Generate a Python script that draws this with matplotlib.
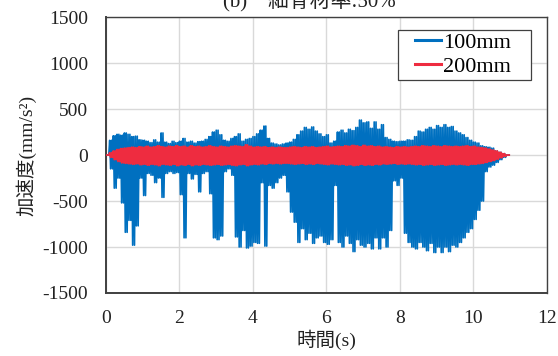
import numpy as np
import matplotlib
matplotlib.use("Agg")
import matplotlib.pyplot as plt
from matplotlib.patches import Rectangle

FONT = ["Liberation Serif", "Noto Sans CJK JP"]
plt.rcParams["font.family"] = FONT
plt.rcParams["axes.unicode_minus"] = False

# ---------------------------------------------------------------------------
# Peak envelopes of the acceleration records, one (max, min) pair per 0.1 s
# ---------------------------------------------------------------------------
t_s = np.linspace(0.0, 10.9, 110)

acc100_max = [
    0, 160, 210, 225, 215, 240, 225, 200, 205, 165,
    160, 150, 135, 165, 140, 240, 140, 125, 150, 135,
    150, 180, 140, 150, 130, 145, 150, 170, 200, 250,
    270, 220, 160, 150, 180, 200, 230, 150, 170, 180,
    200, 230, 270, 315, 180, 130, 120, 110, 120, 130,
    140, 170, 220, 260, 300, 280, 305, 260, 230, 200,
    220, 130, 150, 250, 270, 240, 280, 265, 300, 380,
    350, 360, 290, 360, 280, 330, 190, 170, 150, 145,
    150, 150, 165, 160, 200, 260, 250, 280, 300, 280,
    320, 300, 330, 300, 310, 260, 240, 220, 190, 160,
    140, 130, 100, 90, 85, 75, 45, 30, 15, 0,
]
acc100_min = [
    0, -150, -360, -250, -520, -840, -710, -980, -770, -250,
    -440, -200, -220, -300, -250, -460, -200, -180, -200, -190,
    -430, -900, -200, -260, -210, -400, -200, -180, -420, -900,
    -920, -880, -180, -150, -220, -890, -1000, -820, -1010, -990,
    -950, -960, -300, -990, -330, -360, -300, -250, -220, -400,
    -620, -730, -950, -800, -920, -850, -960, -900, -880, -950,
    -970, -920, -330, -950, -1000, -880, -960, -1050, -920, -980,
    -1000, -960, -1020, -900, -1020, -900, -1000, -820, -280, -330,
    -250, -850, -950, -1000, -1020, -950, -1000, -1040, -960, -1060,
    -1000, -1060, -1000, -1050, -980, -1000, -950, -900, -840, -800,
    -700, -600, -500, -180, -130, -110, -80, -50, -25, 0,
]

acc200_max = [
    0, 25, 45, 60, 70, 75, 80, 85, 80, 90,
    85, 95, 85, 90, 100, 90, 85, 95, 90, 100,
    90, 95, 85, 100, 90, 95, 85, 90, 100, 90,
    85, 95, 90, 85, 95, 100, 95, 90, 110, 95,
    85, 90, 85, 90, 80, 85, 80, 85, 80, 80,
    85, 90, 85, 80, 90, 85, 90, 80, 85, 90,
    95, 85, 90, 95, 90, 100, 95, 105, 100, 90,
    105, 95, 100, 90, 95, 85, 90, 85, 80, 90,
    85, 90, 85, 90, 95, 90, 100, 95, 90, 100,
    95, 90, 100, 95, 90, 95, 90, 95, 100, 90,
    95, 85, 80, 75, 65, 55, 45, 30, 15, 0,
]
acc200_min = [
    0, -25, -50, -70, -85, -90, -95, -100, -95, -105,
    -100, -110, -100, -105, -115, -100, -105, -110, -100, -115,
    -105, -110, -100, -115, -105, -110, -100, -105, -110, -105,
    -100, -110, -105, -100, -110, -115, -105, -100, -115, -105,
    -100, -105, -95, -100, -90, -95, -90, -95, -90, -90,
    -95, -100, -95, -90, -100, -95, -100, -90, -95, -100,
    -105, -95, -100, -105, -100, -110, -105, -115, -110, -100,
    -110, -105, -110, -100, -105, -95, -100, -95, -90, -100,
    -95, -100, -95, -100, -105, -100, -110, -105, -100, -110,
    -105, -100, -110, -105, -100, -105, -100, -105, -110, -100,
    -100, -95, -90, -80, -70, -60, -45, -30, -15, 0,
]

labels = ["100mm", "200mm"]
colors = ["#0070C0", "#EE2C40"]


def zigzag(t, hi, lo, cycles=2):
    # swing between the positive and negative peak a few times per sample
    dt = 0.1 / (2 * cycles)
    offs = np.arange(2 * cycles) * dt
    x = (np.asarray(t)[:, None] + offs[None, :]).ravel()
    y = np.column_stack([hi, lo] * cycles).ravel()
    return x, y


fig = plt.figure(figsize=(5.58, 3.56), dpi=100)
ax = fig.add_axes([0.190, 0.177, 0.790, 0.775])

x1, y1 = zigzag(t_s, acc100_max, acc100_min)
x2, y2 = zigzag(t_s, acc200_max, acc200_min)
ax.plot(x1, y1, color=colors[0], lw=1.2, label=labels[0], zorder=3)
ax.plot(x2, y2, color=colors[1], lw=1.3, label=labels[1], zorder=4)

ax.set_xlim(0, 12)
ax.set_ylim(-1500, 1500)
ax.set_xticks(np.arange(0, 13, 2))
ax.set_yticks(np.arange(-1500, 1501, 500))
ax.tick_params(length=0, labelsize=14, colors="#222222")
ax.tick_params(axis="y", pad=13)
ax.tick_params(axis="x", pad=12)
ax.grid(color="#D9D9D9", lw=1.0)
ax.set_axisbelow(True)
for side in ["top", "right"]:
    ax.spines[side].set_color("#404040")
    ax.spines[side].set_linewidth(1.0)
for side in ["left", "bottom"]:
    ax.spines[side].set_color("#404040")
    ax.spines[side].set_linewidth(1.4)

ax.set_xlabel("時間(s)", fontsize=14, labelpad=2, color="#222222")
ax.set_ylabel("加速度(mm/s²)", fontsize=14, labelpad=4, color="#222222")

fig.text(0.554, 0.980, "(b)\u3000細骨材率:50%", fontsize=15,
         ha="center", va="baseline", color="#222222")

# legend box drawn separately so its side padding can be wider than the top
ax.add_patch(Rectangle((0.662, 0.772), 0.302, 0.181, transform=ax.transAxes,
                       facecolor="white", edgecolor="#404040", lw=0.9, zorder=5))
leg = ax.legend(loc="center left", bbox_to_anchor=(0.701, 0.864), fontsize=16,
                handlelength=1.15, handletextpad=0.1, labelspacing=0.15,
                borderpad=0, borderaxespad=0, frameon=False)
leg.set_zorder(6)
for line in leg.get_lines():
    line.set_linewidth(2.2)

fig.savefig("out.png", dpi=100)
